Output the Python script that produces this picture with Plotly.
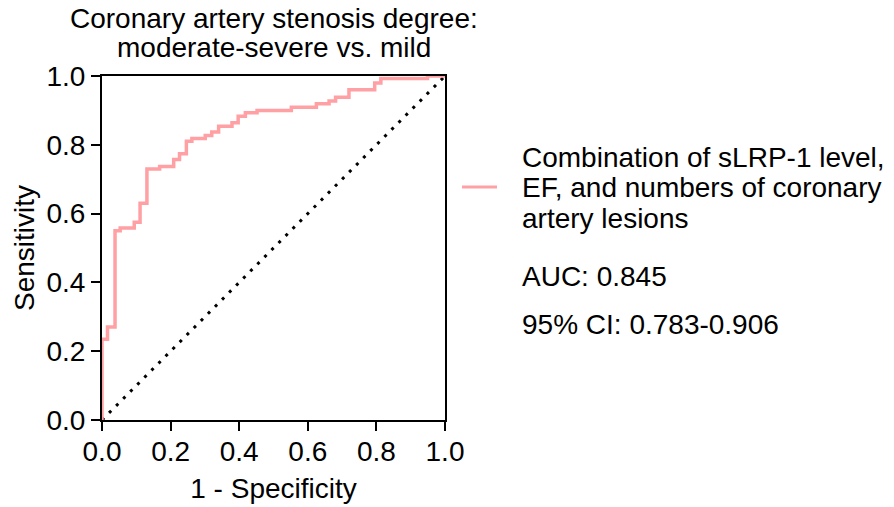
import plotly.graph_objects as go

# ROC step vertices (1 - specificity, sensitivity)
fpr = [0.0, 0.0, 0.016, 0.038, 0.053, 0.094, 0.111, 0.131, 0.168, 0.209, 0.226,
       0.246, 0.262, 0.301, 0.320, 0.340, 0.379, 0.397, 0.418, 0.452, 0.552,
       0.625, 0.662, 0.681, 0.720, 0.795, 0.813, 0.949, 1.0]
tpr = [0.0, 0.235, 0.270, 0.550, 0.558, 0.575, 0.630, 0.730, 0.737, 0.757, 0.774,
       0.810, 0.818, 0.827, 0.837, 0.854, 0.864, 0.883, 0.893, 0.900, 0.909,
       0.919, 0.927, 0.938, 0.960, 0.980, 0.993, 1.0, 1.0]
ref_x = [0.0, 1.0]
ref_y = [0.0, 1.0]
tick_vals = [0.0, 0.2, 0.4, 0.6, 0.8, 1.0]
tick_text = ["0.0", "0.2", "0.4", "0.6", "0.8", "1.0"]

title_lines = ["Coronary artery stenosis degree:", "moderate-severe vs. mild"]
legend_lines = ["Combination of sLRP-1 level,", "EF, and numbers of coronary", "artery lesions"]
stat_lines = ["AUC: 0.845", "95% CI: 0.783-0.906"]

PINK = "#FFA0A4"
FONT = "Arial, Liberation Sans, sans-serif"
FS = 28

fig = go.Figure()
fig.add_trace(go.Scatter(x=ref_x, y=ref_y, mode="lines",
                         line=dict(color="black", width=3, dash="3px,7px"),
                         showlegend=False, hoverinfo="skip"))
fig.add_trace(go.Scatter(x=fpr, y=tpr, mode="lines", line_shape="hv",
                         line=dict(color=PINK, width=3.5),
                         showlegend=False))

axis_common = dict(range=[0, 1], tickvals=tick_vals, ticktext=tick_text,
                   showline=True, linecolor="black", linewidth=2, mirror=True,
                   ticks="outside", ticklen=9, tickwidth=2, tickcolor="black",
                   showgrid=False, zeroline=False, automargin=False,
                   tickfont=dict(family=FONT, size=FS, color="black"))

fig.update_layout(
    width=894, height=507, autosize=False,
    margin=dict(l=102, r=449, t=76, b=87),
    plot_bgcolor="white", paper_bgcolor="white",
    font=dict(family=FONT, size=FS, color="black"),
    xaxis=dict(**axis_common, ticklabelstandoff=-4,
               title=dict(text="1 - Specificity", standoff=13,
                          font=dict(family=FONT, size=FS))),
    yaxis=dict(**axis_common, title=dict(text="Sensitivity", standoff=4,
                                         font=dict(family=FONT, size=FS))),
)

def add_text(txt, x, y, anchor):
    fig.add_annotation(text=txt, xref="paper", yref="paper", x=x, y=y,
                       xanchor=anchor, yanchor="middle", showarrow=False,
                       font=dict(family=FONT, size=FS, color="black"))

# title (two lines, tight spacing)
for txt, y in zip(title_lines, [1.1686, 1.0843]):
    add_text(txt, 0.5, y, "center")

# legend sample
fig.add_shape(type="line", xref="paper", yref="paper",
              x0=1.0496, x1=1.1516, y0=0.6773, y1=0.6773,
              line=dict(color=PINK, width=3))
for txt, y in zip(legend_lines, [0.7645, 0.6773, 0.5872]):
    add_text(txt, 1.2187, y, "left")
for txt, y in zip(stat_lines, [0.4157, 0.2762]):
    add_text(txt, 1.2187, y, "left")

fig.write_html("out.html")
